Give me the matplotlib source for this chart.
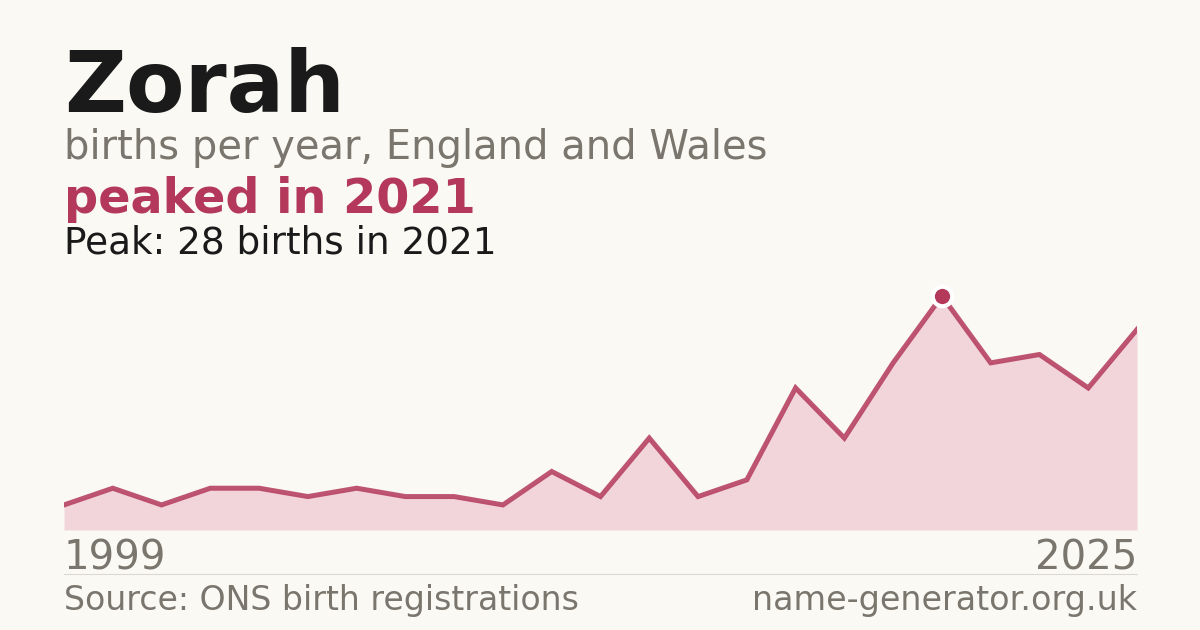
import matplotlib
matplotlib.use("Agg")
import matplotlib.pyplot as plt

years = [1999, 2000, 2002, 2003, 2005, 2006, 2007, 2008, 2009, 2010, 2011, 2012,
         2013, 2014, 2015, 2016, 2018, 2020, 2021, 2022, 2023, 2024, 2025]
births = [3, 5, 3, 5, 5, 4, 5, 4, 4, 3, 7, 4, 11, 4, 6, 17, 11, 20, 28, 20, 21, 17, 24]

name = "Zorah"
subtitle = "births per year, England and Wales"
headline = "peaked in 2021"
peak_text = "Peak: 28 births in 2021"
source = "Source: ONS birth registrations"
site = "name-generator.org.uk"

BG = "#faf9f4"
ACCENT = "#b3385a"
FILL = "#f1d5db"
GREY = "#7a756d"
DARK = "#1a1a1a"

W, H = 1200, 630
fig = plt.figure(figsize=(12, 6.3), dpi=100, facecolor=BG)

def fy(py):
    return 1 - py / H

def fx(px):
    return px / W

fig.text(fx(64), fy(112), name, fontsize=61.5, fontweight="bold", color=DARK, va="baseline", ha="left")
fig.text(fx(64), fy(159), subtitle, fontsize=28.8, color=GREY, va="baseline", ha="left")
fig.text(fx(64), fy(213), headline, fontsize=34.4, fontweight="bold", color=ACCENT, va="baseline", ha="left")
fig.text(fx(64), fy(254), peak_text, fontsize=26.9, color=DARK, va="baseline", ha="left")

ax = fig.add_axes([fx(64), fy(530), fx(1137) - fx(64), (530 - 296) / H])
ax.set_facecolor("none")
x = list(range(len(years)))
ax.fill_between(x, births, 0, color=FILL, linewidth=0)
ax.plot(x, births, color=ACCENT, lw=3.6, solid_joinstyle="miter", alpha=0.85)
pk = births.index(max(births))
ax.plot([x[pk]], [births[pk]], "o", ms=14, color=ACCENT, mec="white", mew=3, clip_on=False, zorder=5)
ax.set_xlim(0, len(years) - 1)
ax.set_ylim(0, max(births))
ax.axis("off")

fig.text(fx(64), fy(570), str(years[0]), fontsize=29, color=GREY, va="baseline", ha="left")
fig.text(fx(1137), fy(570), str(years[-1]), fontsize=29, color=GREY, va="baseline", ha="right")

fig.add_artist(plt.Line2D([fx(64), fx(1137)], [fy(574), fy(574)], color="#dcd9d2", lw=0.8))

fig.text(fx(64), fy(610), source, fontsize=23.9, color=GREY, va="baseline", ha="left")
fig.text(fx(1137), fy(610), site, fontsize=24, color=GREY, va="baseline", ha="right")

fig.savefig("out.png", dpi=100, facecolor=BG)
